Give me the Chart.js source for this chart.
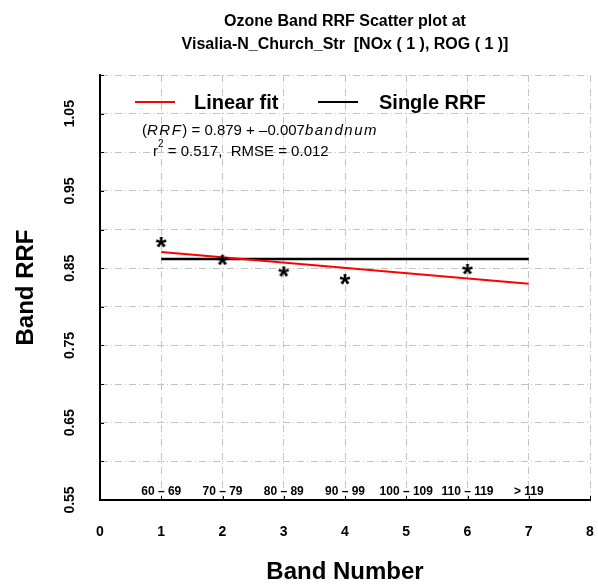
<!DOCTYPE html>
<html>
<head>
<meta charset="utf-8">
<script src="https://cdn.jsdelivr.net/npm/chart.js@4.4.1/dist/chart.umd.min.js"></script>
<style>
    html, body { margin: 0; padding: 0; background: #fff; }
    #wrap { width: 598px; height: 587px; }
</style>
</head>
<body>
<div id="wrap"><canvas id="rrfChart" width="598" height="587"></canvas></div>
<script>
// Values
const bandNumbers = [1, 2, 3, 4, 6];
const bandRRF = [0.884, 0.861, 0.846, 0.836, 0.849];
const fitBands = [1, 7];
const fitRRF = [0.871, 0.830];
const singleBands = [1, 7];
const singleRRF = [0.862, 0.862];
const bandRanges = ['60 – 69', '70 – 79', '80 – 89', '90 – 99', '100 – 109', '110 – 119', '> 119'];
const titleLines = ['Ozone Band RRF Scatter plot at', 'Visalia-N_Church_Str  [NOx ( 1 ), ROG ( 1 )]'];
const legendLabels = ['Linear fit', 'Single RRF'];
const fitStats = { r2: '0.517', rmse: '0.012', intercept: '0.879', slope: '–0.007' };

const FONT = '"Liberation Sans", Arial, Helvetica, sans-serif';

// "*" marker as an image point style
function makeStar() {
    const c = document.createElement('canvas');
    c.width = 20; c.height = 20;
    const g = c.getContext('2d');
    g.font = 'bold 28px ' + FONT;
    g.textAlign = 'center';
    g.textBaseline = 'alphabetic';
    const m = g.measureText('*');
    const y = 10 + (m.actualBoundingBoxAscent - m.actualBoundingBoxDescent) / 2;
    g.fillStyle = '#000';
    g.fillText('*', 10, y);
    return c;
}

const toXY = (xs, ys) => xs.map((x, i) => ({ x: x, y: ys[i] }));

// Everything the library doesn't draw by itself: legend, fit text, band ranges, rotated y labels, inner ticks
const extrasPlugin = {
    id: 'extras',
    afterDraw(chart) {
        const { ctx, chartArea: a, scales: { x, y } } = chart;
        ctx.save();

        // inner tick marks
        ctx.strokeStyle = '#000';
        ctx.lineWidth = 1;
        y.ticks.forEach(t => {
            const py = Math.round(y.getPixelForValue(t.value)) + 0.5;
            ctx.beginPath(); ctx.moveTo(a.left, py); ctx.lineTo(a.left + 4, py); ctx.stroke();
        });
        x.ticks.forEach(t => {
            const px = Math.round(x.getPixelForValue(t.value)) + 0.5;
            ctx.beginPath(); ctx.moveTo(px, a.bottom); ctx.lineTo(px, a.bottom - 4); ctx.stroke();
        });

        // rotated y tick labels, every 0.1
        ctx.fillStyle = '#000';
        ctx.font = 'bold 14px ' + FONT;
        ctx.textAlign = 'center';
        ctx.textBaseline = 'middle';
        y.ticks.forEach(t => {
            const k = Math.round((t.value - y.min) / 0.05);
            if (k % 2 !== 0) return;
            ctx.save();
            ctx.translate(70, y.getPixelForValue(t.value));
            ctx.rotate(-Math.PI / 2);
            ctx.fillText(t.value.toFixed(2), 0, 0);
            ctx.restore();
        });

        // band range labels just above the x axis
        ctx.font = 'bold 12px ' + FONT;
        bandRanges.forEach((lab, i) => {
            ctx.fillText(lab, x.getPixelForValue(i + 1), a.bottom - 8);
        });

        // legend
        const ly = 102;
        ctx.lineWidth = 2;
        ctx.strokeStyle = '#ff0000';
        ctx.beginPath(); ctx.moveTo(135, ly); ctx.lineTo(175, ly); ctx.stroke();
        ctx.strokeStyle = '#000';
        ctx.beginPath(); ctx.moveTo(318, ly); ctx.lineTo(358, ly); ctx.stroke();
        ctx.font = 'bold 20px ' + FONT;
        ctx.textAlign = 'left';
        ctx.fillText(legendLabels[0], 194, ly + 1);
        ctx.fillText(legendLabels[1], 379, ly + 1);

        // fit equation
        const parts = [
            ['(', false], ['RRF', true], [')', false],
            [' = ' + fitStats.intercept + ' + ' + fitStats.slope, false], ['bandnum', true]
        ];
        let cx = 142;
        const ey = 131;
        parts.forEach(([txt, ital]) => {
            ctx.font = (ital ? 'italic ' : '') + '15px ' + FONT;
            ctx.letterSpacing = ital ? '1.5px' : '0px';
            ctx.fillText(txt, cx, ey);
            cx += ctx.measureText(txt).width;
        });
        ctx.letterSpacing = '0px';

        // r2 / RMSE line
        ctx.font = '15px ' + FONT;
        let sx = 153;
        const sy = 152;
        ctx.fillText('r', sx, sy);
        sx += ctx.measureText('r').width;
        ctx.font = '10px ' + FONT;
        ctx.fillText('2', sx, sy - 8);
        sx += ctx.measureText('2').width;
        ctx.font = '15px ' + FONT;
        ctx.fillText(' = ' + fitStats.r2 + ',  RMSE = ' + fitStats.rmse, sx, sy);

        ctx.restore();
    }
};

const ctx = document.getElementById('rrfChart').getContext('2d');
Chart.defaults.color = '#000';
Chart.defaults.font.family = FONT;

new Chart(ctx, {
    type: 'scatter',
    data: {
        datasets: [{
            label: 'Band RRF',
            data: toXY(bandNumbers, bandRRF),
            pointStyle: makeStar(),
            pointRadius: 10,
            showLine: false
        }, {
            label: legendLabels[0],
            data: toXY(fitBands, fitRRF),
            showLine: true,
            borderColor: '#ff0000',
            borderWidth: 2,
            pointRadius: 0
        }, {
            label: legendLabels[1],
            data: toXY(singleBands, singleRRF),
            showLine: true,
            borderColor: '#000000',
            borderWidth: 2.5,
            pointRadius: 0
        }]
    },
    options: {
        responsive: false,
        animation: false,
        layout: { padding: { right: 8 }, autoPadding: false },
        plugins: {
            legend: { display: false },
            tooltip: { enabled: false },
            title: {
                display: true,
                text: titleLines,
                fullSize: false,
                color: '#000',
                font: { size: 16, weight: 'bold', lineHeight: 1.44 },
                padding: { top: 10, bottom: 19 }
            }
        },
        scales: {
            x: {
                type: 'linear',
                min: 0,
                max: 8,
                ticks: { stepSize: 1, padding: 0, font: { size: 14, weight: 'bold' }, maxRotation: 0 },
                grid: { color: '#c4c4c4', lineWidth: 1, drawTicks: true, tickLength: 24, tickColor: 'rgba(0,0,0,0)' },
                border: { display: true, color: '#000', width: 2, dash: [7, 3, 1, 3] },
                title: { display: true, text: 'Band Number', font: { size: 24, weight: 'bold' }, padding: { top: 0, bottom: 0 } },
                afterFit(s) { s.height = 87; s.paddingRight = 0; s.paddingLeft = 0; }
            },
            y: {
                type: 'linear',
                min: 0.55,
                max: 1.10,
                ticks: { stepSize: 0.05, display: false },
                grid: { color: '#c4c4c4', lineWidth: 1, drawTicks: false },
                border: { display: true, color: '#000', width: 2, dash: [7, 3, 1, 3] },
                title: { display: true, text: 'Band RRF', font: { size: 24, weight: 'bold' }, padding: { top: 12, bottom: 0 } },
                afterFit(s) { s.width = 100; }
            }
        }
    },
    plugins: [extrasPlugin]
});
</script>
</body>
</html>
